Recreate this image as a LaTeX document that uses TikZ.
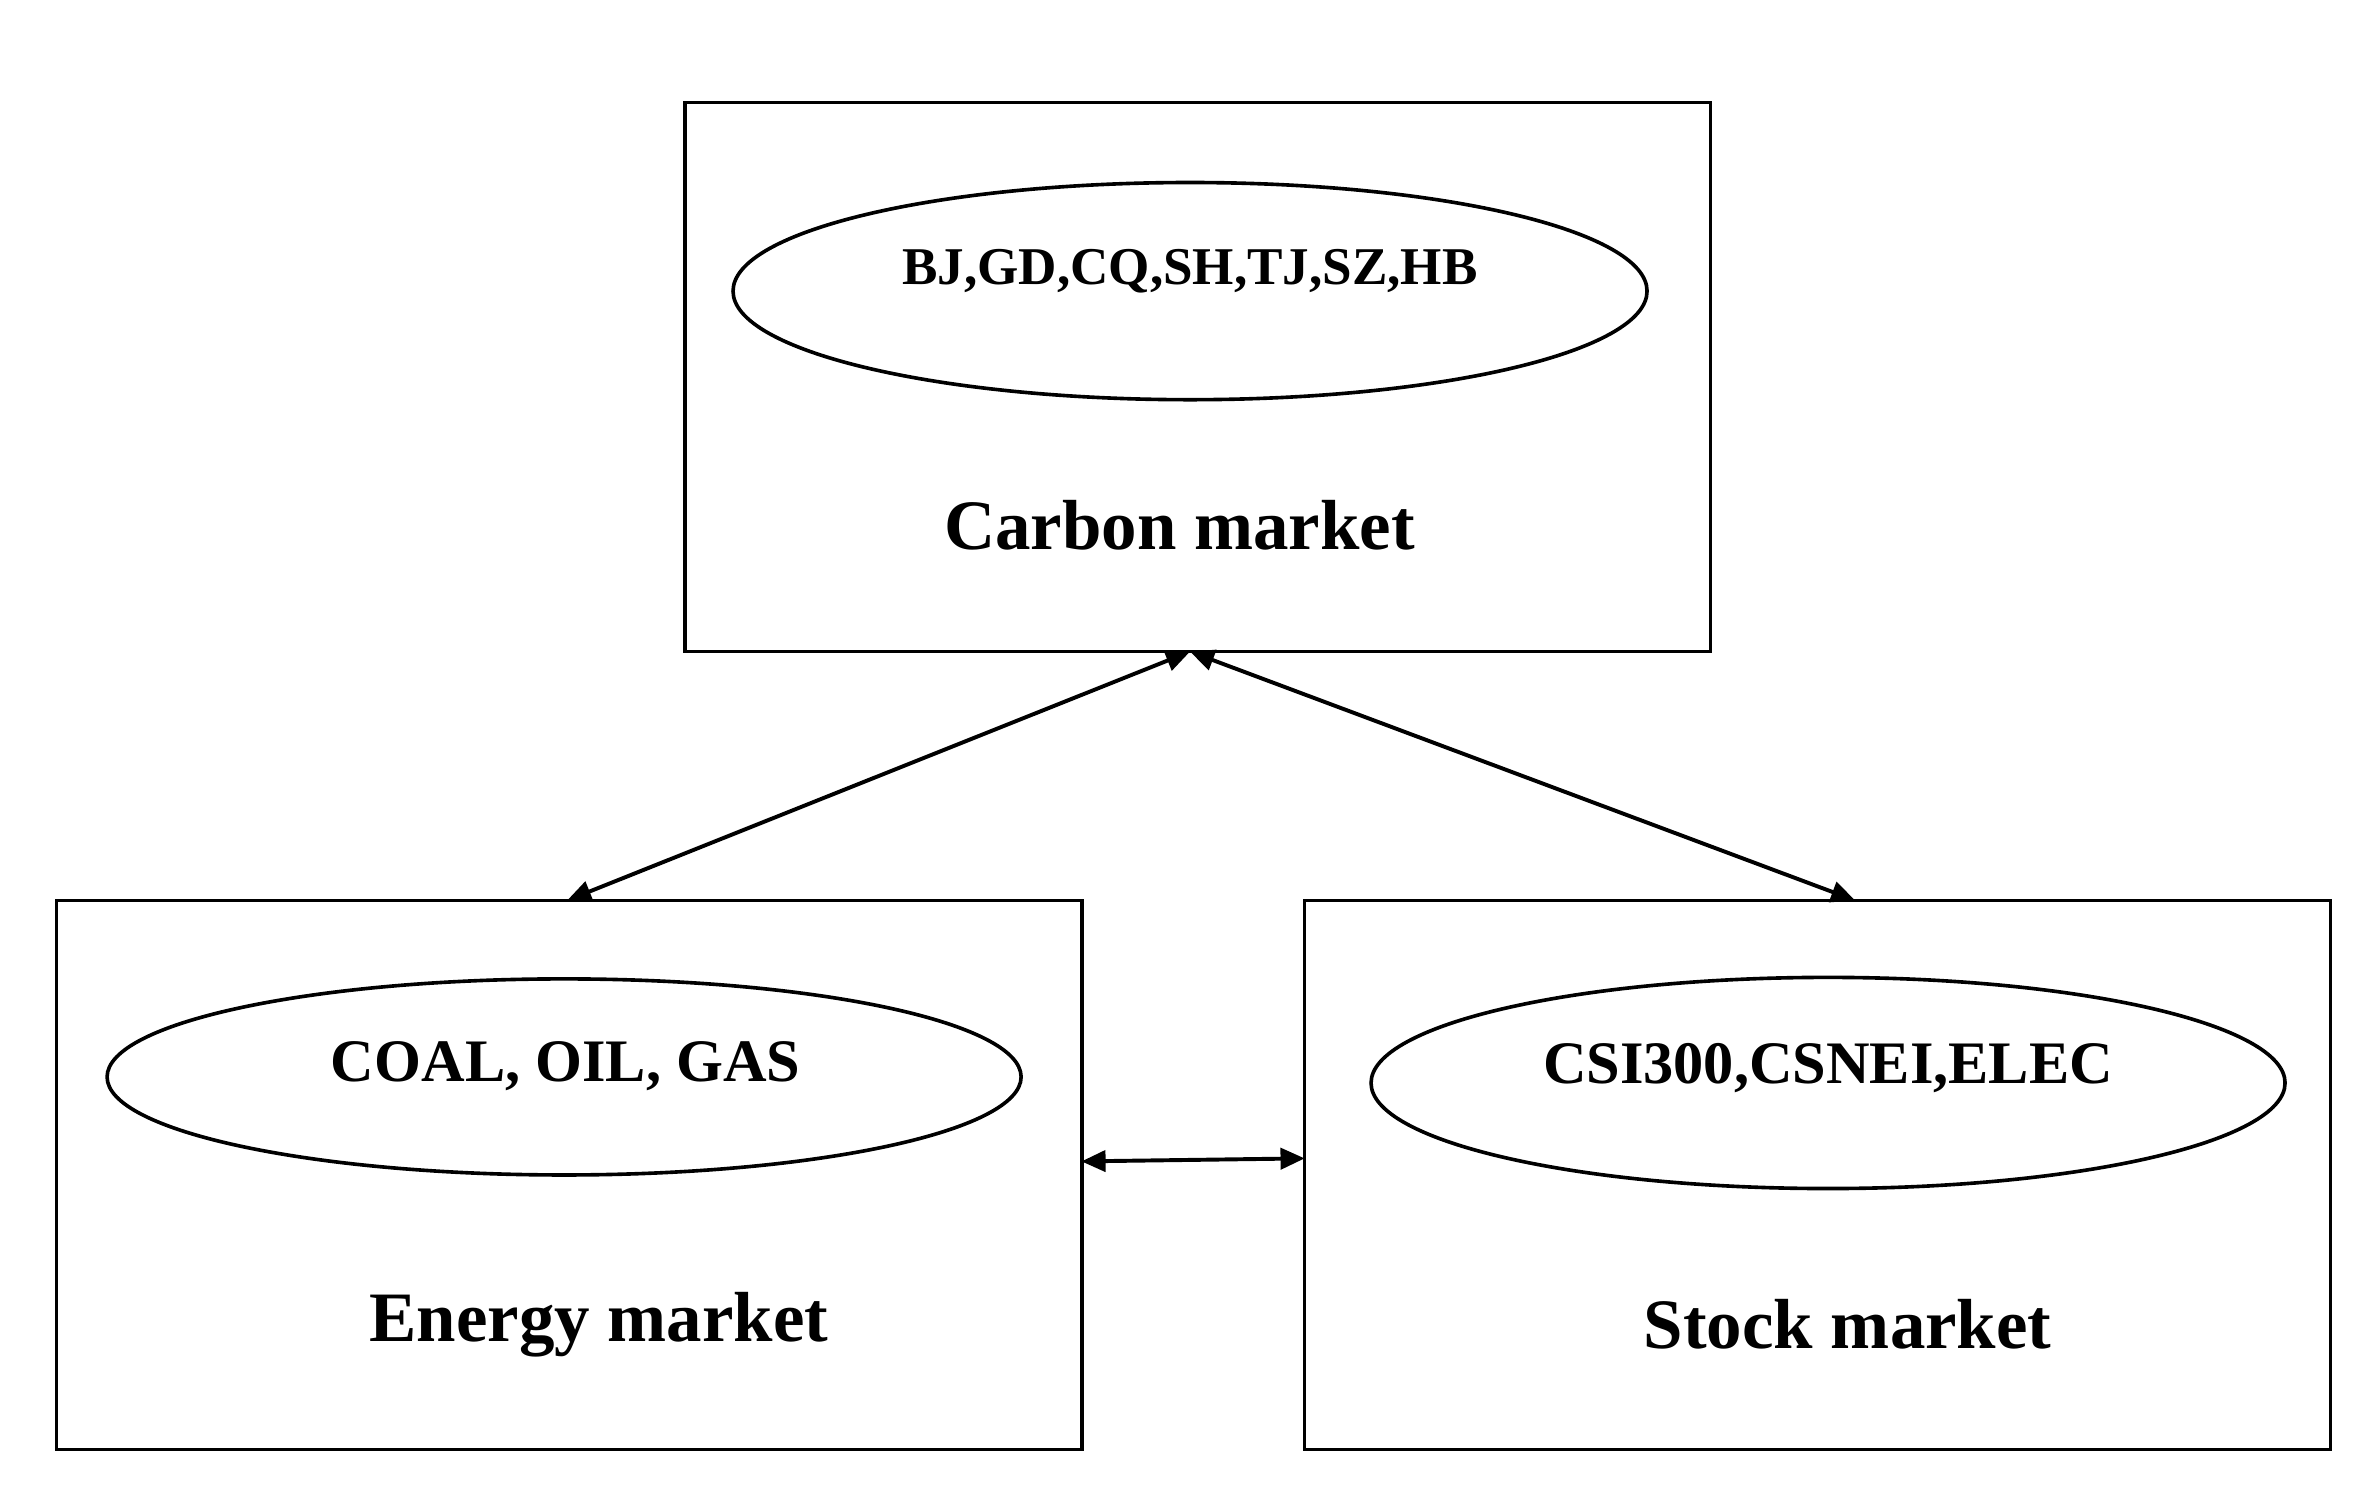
\documentclass[tikz,border=0pt]{standalone}
\usepackage{fontspec}
\setmainfont{Liberation Serif}
\usetikzlibrary{shapes.geometric,arrows.meta}
\begin{document}
\begin{tikzpicture}[x=0.5pt,y=-0.5pt,
 box/.style={draw,line width=1.2pt,minimum width=340pt,minimum height=182pt,inner sep=0},
 ell/.style={draw,ellipse,line width=1.2pt,inner sep=0},
 lbl/.style={font=\bfseries\fontsize{23.5}{26}\selectfont},
 arr/.style={line width=1.3pt,{Triangle[length=8pt,width=7pt]}-{Triangle[length=8pt,width=7pt]}}]
\useasboundingbox (0,0) rectangle (1568,985);
\node[box] (carbon) at (794,250) {};
\node[box] (energy) at (377.5,779) {};
\node[box] (stock) at (1205,779) {};
\node[ell,minimum width=303pt,minimum height=72pt] (ce) at (789,193) {};
\node[ell,minimum width=303pt,minimum height=65pt] (ee) at (374,714) {};
\node[ell,minimum width=303pt,minimum height=70pt] (se) at (1212,718) {};
\node[font=\bfseries\fontsize{17.6}{20}\selectfont] (ct) at (789,180) {BJ,GD,CQ,SH,TJ,SZ,HB};
\node[font=\bfseries\fontsize{20}{22}\selectfont] (et) at (375,707) {COAL, OIL, GAS};
\node[font=\bfseries\fontsize{20}{22}\selectfont] (st) at (1212,708) {CSI300,CSNEI,ELEC};
\node[lbl] (cl) at (782,348) {Carbon market};
\node[lbl] (el) at (397,878) {Energy market};
\node[lbl] (sl) at (1225,878) {Stock market};
\coordinate (ctop) at (789,432);
\coordinate (eb) at (376,597);
\coordinate (sb) at (1230,597);
\coordinate (h1) at (717,770);
\coordinate (h2) at (865,768);
\draw[arr] (eb) -- (ctop);
\draw[arr] (sb) -- (ctop);
\draw[arr] (h1) -- (h2);
\end{tikzpicture}
\end{document}
